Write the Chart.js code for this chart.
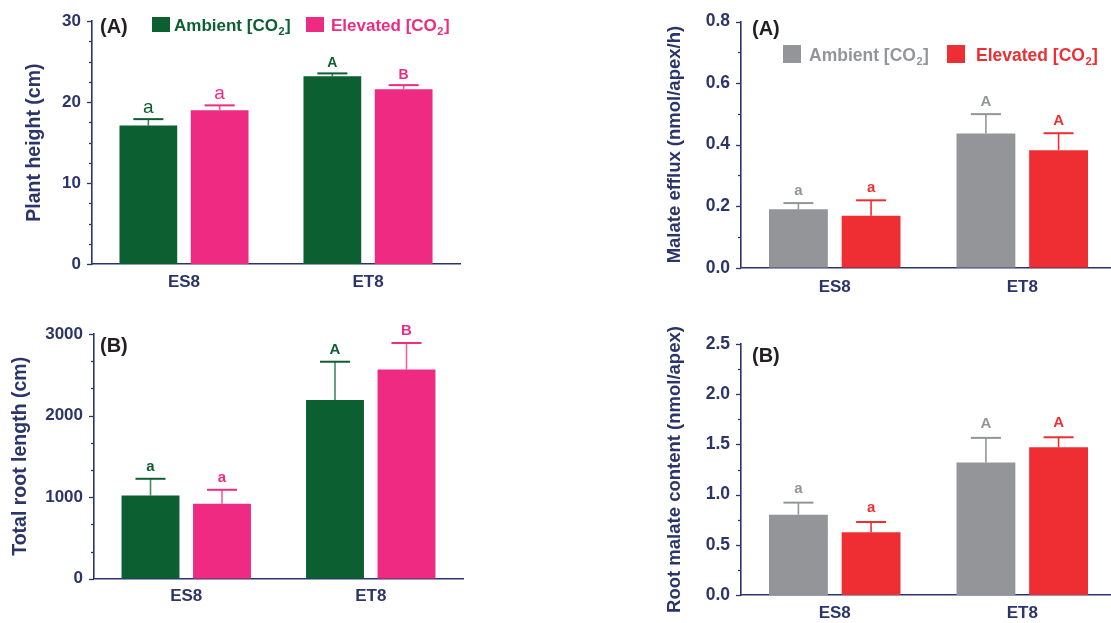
<!DOCTYPE html>
<html><head><meta charset="utf-8">
<script src="https://cdn.jsdelivr.net/npm/chart.js@4.4.1/dist/chart.umd.min.js"></script>
<style>
html,body{margin:0;padding:0;background:#fff;overflow:hidden;width:1111px;height:623px;position:relative;}
canvas{position:absolute;}
</style></head><body>
<canvas id="c1" width="470" height="300" style="left:0;top:0"></canvas>
<canvas id="c2" width="470" height="313" style="left:0;top:310px"></canvas>
<canvas id="c3" width="470" height="300" style="left:650px;top:0"></canvas>
<canvas id="c4" width="470" height="313" style="left:650px;top:310px"></canvas>
<script>
// ---------- DATA ----------
const categories = ['ES8', 'ET8'];

const heightAmbient = [17.1, 23.2];
const heightAmbientErr = [0.8, 0.35];
const heightElevated = [19.0, 21.6];
const heightElevatedErr = [0.6, 0.5];
const heightAmbientLetters = ['a', 'A'];
const heightElevatedLetters = ['a', 'B'];
const heightTicks = [0, 10, 20, 30];

const rootAmbient = [1020, 2190];
const rootAmbientErr = [205, 470];
const rootElevated = [920, 2565];
const rootElevatedErr = [170, 325];
const rootAmbientLetters = ['a', 'A'];
const rootElevatedLetters = ['a', 'B'];
const rootTicks = [0, 1000, 2000, 3000];

const effluxAmbient = [0.190, 0.436];
const effluxAmbientErr = [0.020, 0.063];
const effluxElevated = [0.169, 0.382];
const effluxElevatedErr = [0.050, 0.055];
const effluxAmbientLetters = ['a', 'A'];
const effluxElevatedLetters = ['a', 'A'];
const effluxTicks = [0, 0.2, 0.4, 0.6, 0.8];

const contentAmbient = [0.80, 1.32];
const contentAmbientErr = [0.12, 0.245];
const contentElevated = [0.624, 1.471];
const contentElevatedErr = [0.103, 0.10];
const contentAmbientLetters = ['a', 'A'];
const contentElevatedLetters = ['a', 'A'];
const contentTicks = [0, 0.5, 1.0, 1.5, 2.0, 2.5];

const seriesNames = ['Ambient [CO', 'Elevated [CO'];

// ---------- STYLE ----------
const FONT = "'Liberation Sans', Arial, Helvetica, sans-serif";
const NAVY = '#2c3569';
const GREEN = '#0b5f31';
const PINK = '#ee2a82';
const GRAY = '#939598';
const RED = '#ee2e33';

const decor = {
  id: 'decor',
  afterDatasetsDraw(chart, args, o) {
    const ctx = chart.ctx;
    const ys = chart.scales.y;
    const area = chart.chartArea;
    // error bars + letters
    chart.data.datasets.forEach((ds, di) => {
      const meta = chart.getDatasetMeta(di);
      meta.data.forEach((bar, i) => {
        const top = ys.getPixelForValue(ds.data[i] + ds.errors[i]);
        ctx.save();
        ctx.strokeStyle = ds.errColor;
        ctx.lineWidth = 1.6;
        ctx.beginPath();
        ctx.moveTo(bar.x, bar.y);
        ctx.lineTo(bar.x, top);
        ctx.stroke();
        ctx.strokeStyle = ds.backgroundColor;
        ctx.lineWidth = 2;
        ctx.beginPath();
        ctx.moveTo(bar.x - 15, top);
        ctx.lineTo(bar.x + 15, top);
        ctx.stroke();
        const L = ds.letters[i];
        ctx.fillStyle = ds.backgroundColor;
        ctx.font = o.letterFont(L);
        ctx.textAlign = 'center';
        ctx.textBaseline = 'alphabetic';
        ctx.fillText(L, bar.x, top - o.letterGap);
        ctx.restore();
      });
    });
  },
  afterDraw(chart, args, o) {
    const ctx = chart.ctx;
    const ys = chart.scales.y;
    const left = chart.chartArea.left;
    // tick marks (major + minor)
    ctx.save();
    ctx.strokeStyle = NAVY;
    ctx.lineWidth = 1.3;
    const n = Math.round(ys.max / o.minorStep);
    for (let k = 0; k <= n; k++) {
      const v = k * o.minorStep;
      const major = o.majors.some(m => Math.abs(m - v) < 1e-9 * Math.max(1, ys.max));
      const py = Math.round(ys.getPixelForValue(v)) + 0.5;
      ctx.beginPath();
      ctx.moveTo(left - (major ? 5 : 3), py);
      ctx.lineTo(left, py);
      ctx.stroke();
    }
    ctx.restore();
    // panel label
    ctx.save();
    ctx.fillStyle = '#231f20';
    ctx.font = 'bold 20px ' + FONT;
    ctx.textBaseline = 'alphabetic';
    ctx.textAlign = 'left';
    ctx.fillText(o.panel.text, o.panel.x, o.panel.y);
    ctx.restore();
    // legend
    if (o.legend) {
      const lg = o.legend;
      chart.data.datasets.forEach((ds, di) => {
        const it = lg.items[di];
        ctx.save();
        ctx.fillStyle = ds.backgroundColor;
        ctx.fillRect(it.sx, lg.sy, lg.sw, lg.sh);
        ctx.fillStyle = ds.legendText;
        ctx.textAlign = 'left';
        ctx.textBaseline = 'alphabetic';
        ctx.font = 'bold ' + lg.size + 'px ' + FONT;
        let x = it.tx;
        ctx.fillText(ds.label, x, lg.base);
        x += ctx.measureText(ds.label).width;
        ctx.font = 'bold ' + Math.round(lg.size * 0.62) + 'px ' + FONT;
        ctx.fillText('2', x + 0.5, lg.base + 4);
        x += ctx.measureText('2').width + 1;
        ctx.font = 'bold ' + lg.size + 'px ' + FONT;
        ctx.fillText(']', x, lg.base);
        ctx.restore();
      });
    }
  }
};

function makeChart(id, c) {
  const mk = (i) => ({
    label: seriesNames[i],
    data: c.values[i],
    errors: c.errs[i],
    letters: c.letters[i],
    backgroundColor: c.colors[i],
    errColor: c.errColors[i],
    legendText: c.colors[i],
    borderWidth: 0,
    barPercentage: 0.81,
    categoryPercentage: 0.775
  });
  return new Chart(document.getElementById(id), {
    type: 'bar',
    data: { labels: categories, datasets: [mk(0), mk(1)] },
    options: {
      responsive: false,
      animation: false,
      devicePixelRatio: 1,
      events: [],
      layout: { padding: { left: c.padL, top: c.padT, right: c.padR, bottom: 0 } },
      plugins: {
        legend: { display: false },
        tooltip: { enabled: false },
        decor: c.decor
      },
      scales: {
        x: {
          grid: { display: false, drawTicks: false },
          border: { display: true, color: NAVY, width: 1.6 },
          ticks: { color: NAVY, font: { family: FONT, size: 17, weight: 'bold' }, padding: c.xPad },
          afterFit(s) { s.height = c.xH; }
        },
        y: {
          min: 0, max: c.max,
          afterBuildTicks(s) { s.ticks = c.ticks.map(v => ({ value: v })); },
          grid: { display: false, drawTicks: false },
          border: { display: true, color: NAVY, width: 1.6 },
          ticks: {
            color: NAVY, padding: 11,
            font: { family: FONT, size: c.tickSize, weight: 'bold' },
            callback: (v) => c.fmt(v)
          },
          title: {
            display: true, text: c.title, color: NAVY,
            font: { family: FONT, size: c.titleSize, weight: 'bold' },
            padding: { top: 0, bottom: 0 }
          },
          afterFit(s) { s.width = c.yW; }
        }
      }
    },
    plugins: [decor]
  });
}

const letterBold = (size) => (L) => 'bold ' + size + 'px ' + FONT;

makeChart('c1', {
  values: [heightAmbient, heightElevated],
  errs: [heightAmbientErr, heightElevatedErr],
  letters: [heightAmbientLetters, heightElevatedLetters],
  colors: [GREEN, PINK], errColors: ['rgba(11,95,49,0.8)', 'rgba(238,42,130,0.8)'],
  max: 30, ticks: heightTicks, fmt: v => String(v),
  title: 'Plant height (cm)', titleSize: 19.5, tickSize: 17,
  padL: 23.3, yW: 68.7, padT: 19, padR: 10, xH: 36, xPad: 8,
  decor: {
    minorStep: 2.5, majors: heightTicks, letterGap: 6.5,
    letterFont: (L) => (L === L.toLowerCase() ? '19px ' + FONT : 'bold 14px ' + FONT),
    panel: { text: '(A)', x: 100, y: 33 },
    legend: { sy: 17, sw: 18, sh: 15, size: 17, base: 31, items: [{ sx: 152, tx: 174 }, { sx: 306, tx: 331 }] }
  }
});

makeChart('c2', {
  values: [rootAmbient, rootElevated],
  errs: [rootAmbientErr, rootElevatedErr],
  letters: [rootAmbientLetters, rootElevatedLetters],
  colors: [GREEN, PINK], errColors: ['rgba(11,95,49,0.75)', 'rgba(238,42,130,0.75)'],
  max: 3000, ticks: rootTicks, fmt: v => String(v),
  title: 'Total root length (cm)', titleSize: 19.5, tickSize: 17,
  padL: 9.3, yW: 84.7, padT: 24, padR: 7, xH: 44.3, xPad: 7,
  decor: {
    minorStep: 1000 / 3, majors: rootTicks, letterGap: 8,
    letterFont: letterBold(15),
    panel: { text: '(B)', x: 100, y: 42 }
  }
});

makeChart('c3', {
  values: [effluxAmbient, effluxElevated],
  errs: [effluxAmbientErr, effluxElevatedErr],
  letters: [effluxAmbientLetters, effluxElevatedLetters],
  colors: [GRAY, RED], errColors: [GRAY, RED],
  max: 0.8, ticks: effluxTicks, fmt: v => v.toFixed(1),
  title: 'Malate efflux (nmol/apex/h)', titleSize: 18.5, tickSize: 17.5,
  padL: 13.9, yW: 77.1, padT: 16.7, padR: 4, xH: 32.3, xPad: 9,
  decor: {
    minorStep: 0.1, majors: effluxTicks, letterGap: 8.5,
    letterFont: letterBold(15),
    panel: { text: '(A)', x: 102, y: 35 },
    legend: { sy: 45, sw: 18, sh: 18, size: 17.5, base: 61, items: [{ sx: 133, tx: 159 }, { sx: 297, tx: 326 }] }
  }
});

makeChart('c4', {
  values: [contentAmbient, contentElevated],
  errs: [contentAmbientErr, contentElevatedErr],
  letters: [contentAmbientLetters, contentElevatedLetters],
  colors: [GRAY, RED], errColors: [GRAY, RED],
  max: 2.5, ticks: contentTicks, fmt: v => v.toFixed(1),
  title: 'Root malate content (nmol/apex)', titleSize: 18.5, tickSize: 17.5,
  padL: 13.9, yW: 77.1, padT: 34, padR: 4, xH: 28, xPad: 8.5,
  decor: {
    minorStep: 0.25, majors: contentTicks, letterGap: 10,
    letterFont: letterBold(15),
    panel: { text: '(B)', x: 102, y: 52 }
  }
});
</script>
</body></html>
